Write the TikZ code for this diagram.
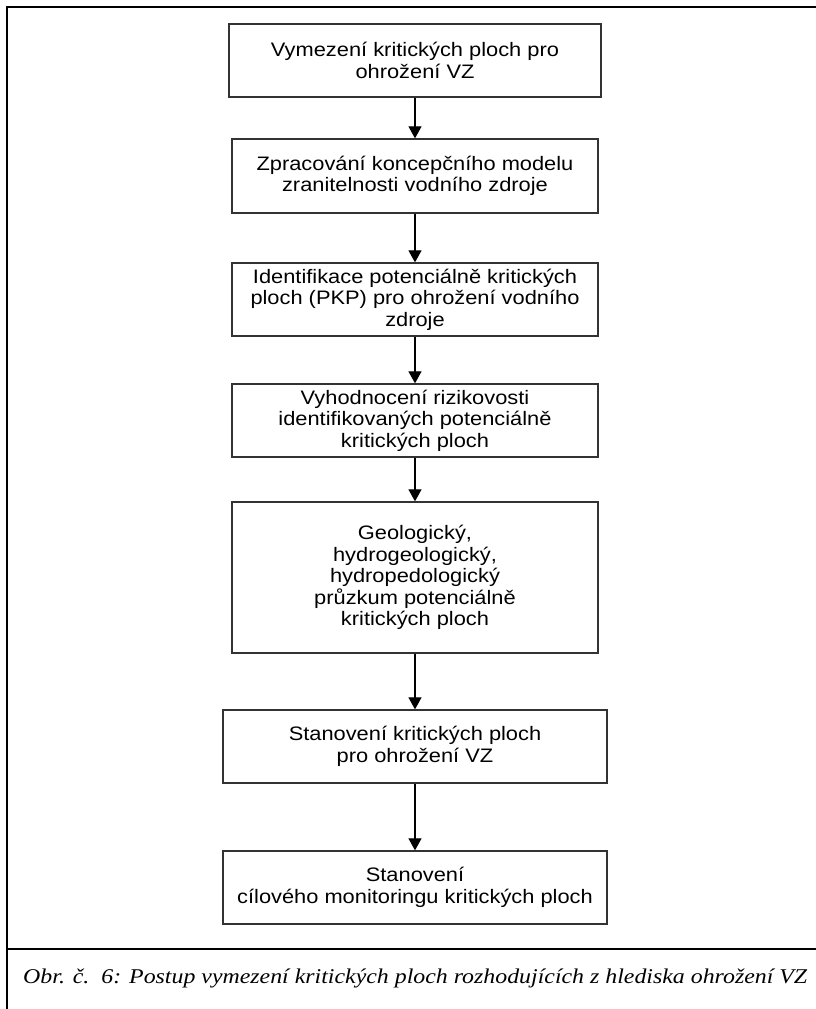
\documentclass[tikz,border=0pt]{standalone}
\usepackage{fontspec}
\usetikzlibrary{arrows.meta}
\newfontfamily\boxfont[FakeStretch=1.12]{Liberation Sans}
\newfontfamily\capfont[FakeStretch=1.136]{Liberation Serif}
\tikzset{
  stepbox/.style={draw=black!80, line width=1.3pt, align=center, inner sep=0pt,
    font=\boxfont\fontsize{19.5}{21.5}\selectfont},
  flow/.style={line width=1.1pt, -{Triangle[width=13pt,length=12pt]}},
  frame/.style={line width=1.9pt}
}
\begin{document}
\begin{tikzpicture}[x=1pt,y=-1pt]
\useasboundingbox (0,0) rectangle (816,1009);
% frame
\coordinate (fTL) at (7,7);
\coordinate (fTR) at (816,7);
\coordinate (fBL) at (7,1009);
\coordinate (cL) at (7,949);
\coordinate (cR) at (816,949);
\draw[frame] (fTR) -- (fTL) -- (fBL);
\draw[frame] (cL) -- (cR);
% boxes
\node[stepbox, minimum width=372pt, minimum height=73pt] (b1) at (415,60.5)
  {Vymezení kritických ploch pro\\ohrožení VZ};
\node[stepbox, minimum width=366pt, minimum height=74pt] (b2) at (415,176)
  {Zpracování koncepčního modelu\\zranitelnosti vodního zdroje};
\node[stepbox, minimum width=366pt, minimum height=73pt] (b3) at (415,299.5)
  {Identifikace potenciálně kritických\\ploch (PKP) pro ohrožení vodního\\zdroje};
\node[stepbox, minimum width=366pt, minimum height=73pt] (b4) at (415,420.5)
  {Vyhodnocení rizikovosti\\identifikovaných potenciálně\\kritických ploch};
\node[stepbox, minimum width=366pt, minimum height=151pt] (b5) at (415,577.5)
  {Geologický,\\hydrogeologický,\\hydropedologický\\průzkum potenciálně\\kritických ploch};
\node[stepbox, minimum width=384pt, minimum height=73pt] (b6) at (415,746.5)
  {Stanovení kritických ploch\\pro ohrožení VZ};
\node[stepbox, minimum width=384pt, minimum height=73pt] (b7) at (415,887.5)
  {Stanovení\\cílového monitoringu kritických ploch};
% arrows
\draw[flow] (b1) -- (b2);
\draw[flow] (b2) -- (b3);
\draw[flow] (b3) -- (b4);
\draw[flow] (b4) -- (b5);
\draw[flow] (b5) -- (b6);
\draw[flow] (b6) -- (b7);
% caption
\node[anchor=west, inner sep=0pt, font=\capfont\itshape\fontsize{21}{24}\selectfont] (cap) at (23,978)
  {Obr. č.\ \ 6: Postup vymezení kritických ploch rozhodujících z hlediska ohrožení VZ};
\end{tikzpicture}
\end{document}
